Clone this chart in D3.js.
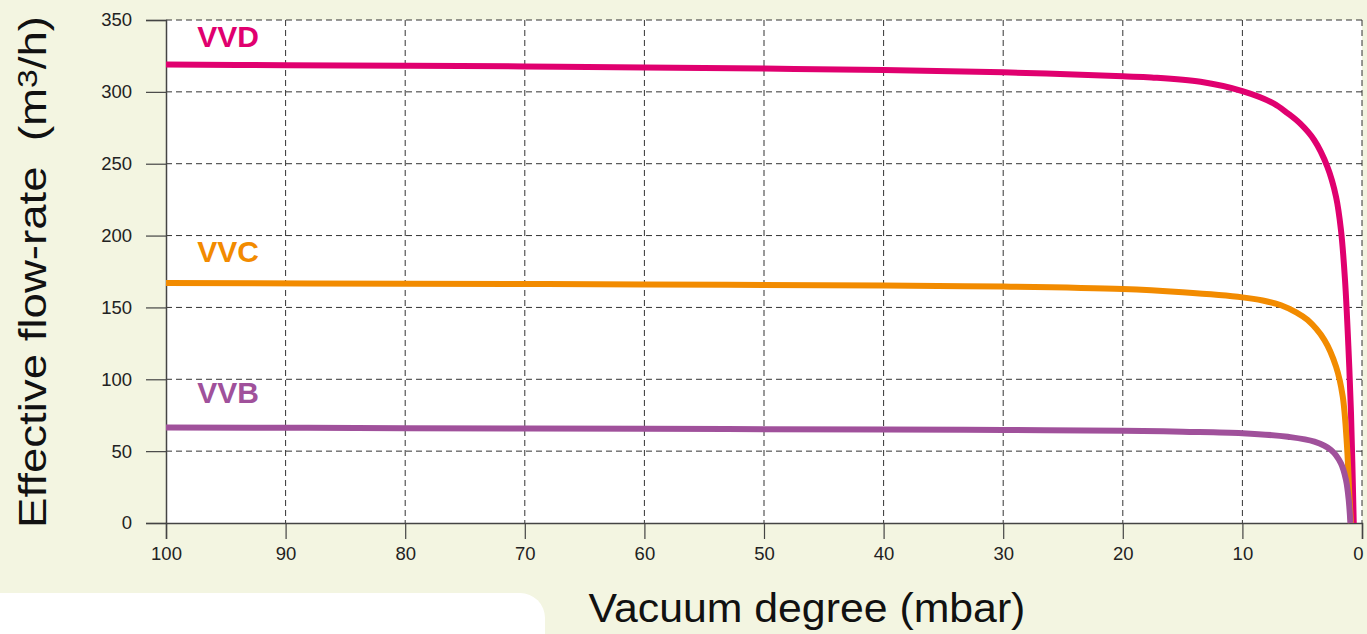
<!DOCTYPE html>
<html>
<head>
<meta charset="utf-8">
<script src="https://cdn.jsdelivr.net/npm/d3@7"></script>
<style>
  html, body { margin: 0; padding: 0; background: #f3f5e1; overflow: hidden; }
  svg { display: block; font-family: "Liberation Sans", Arial, sans-serif; }
</style>
</head>
<body>
<script>
// Vacuum degree (mbar) / flow-rate (m3/h) pairs
var vvd = [
  [100, 319], [90, 318.6], [80, 318.2], [70, 317.7], [60, 317], [50, 316.2],
  [40, 315.2], [30, 313.6], [20, 310.8], [17.6, 310], [13.5, 307],
  [10, 300.5], [7.4, 292], [6.2, 285], [5.18, 278], [4.0, 266.5],
  [2.9, 248], [2.17, 227], [1.76, 204], [1.42, 169], [1.14, 123],
  [0.92, 76.5], [0.69, 0]
];
var vvc = [
  [100, 167], [80, 166.5], [60, 166], [40, 165.2], [30, 164.5], [20, 162.8],
  [15, 160.5], [10, 157], [8.3, 154.8], [6.77, 151.5], [5.5, 146.5],
  [4.54, 141.2], [3.14, 127.3], [2.17, 108.8], [1.61, 88], [1.25, 53],
  [1.05, 18], [0.92, 0]
];
var vvb = [
  [100, 66.5], [80, 66], [60, 65.5], [40, 65], [30, 64.7], [20, 64.2],
  [15, 63.5], [10, 62.5], [6.2, 60], [3.98, 56.6], [2.59, 50.8],
  [1.76, 41.5], [1.34, 30], [1.11, 16], [0.97, 0]
];
var seriesNames = ["VVD", "VVC", "VVB"];
var seriesColors = ["#e0006f", "#f28b00", "#a0519b"];
var labelValues = [335, 185, 87];   // where the name labels sit
var xTicks = [100, 90, 80, 70, 60, 50, 40, 30, 20, 10, 0];
var yTicks = [0, 50, 100, 150, 200, 250, 300, 350];

var W = 1367, H = 634;
// plot box (note: "top" is reserved on window, so use pl/pr/pt/pb)
var pl = 166, pr = 1362, pt = 20, pb = 523;

var svg = d3.select("body").append("svg")
  .attr("width", W).attr("height", H);

// white block bottom left
svg.append("path")
  .attr("d", "M0,593 H520 A25,25 0 0 1 545,618 V634 H0 Z")
  .attr("fill", "#ffffff");

var x = d3.scaleLinear().domain([100, 0]).range([pl, pr]);
var y = d3.scaleLinear().domain([0, 350]).range([pb, pt]);

// plot area
svg.append("rect")
  .attr("x", pl).attr("y", pt)
  .attr("width", pr - pl).attr("height", pb - pt)
  .attr("fill", "#ffffff");

// dashed grid
svg.append("g").selectAll("line").data(yTicks.filter(d => d > 0)).enter()
  .append("line")
  .attr("x1", pl).attr("x2", pr)
  .attr("y1", d => y(d)).attr("y2", d => y(d))
  .attr("stroke", "#333").attr("stroke-width", 1)
  .attr("stroke-dasharray", "6,4");

svg.append("g").selectAll("line").data(xTicks.filter(d => d < 100)).enter()
  .append("line")
  .attr("x1", d => x(d)).attr("x2", d => x(d))
  .attr("y1", pt).attr("y2", pb)
  .attr("stroke", "#333").attr("stroke-width", 1)
  .attr("stroke-dasharray", "6,4");

// axes
var yAxis = svg.append("g")
  .attr("transform", "translate(" + pl + ",0)")
  .call(d3.axisLeft(y).tickValues(yTicks).tickSize(20).tickPadding(14));
var xAxis = svg.append("g")
  .attr("transform", "translate(0," + pb + ")")
  .call(d3.axisBottom(x).tickValues(xTicks).tickSize(16).tickPadding(8));

[yAxis, xAxis].forEach(function (g) {
  g.select(".domain").attr("stroke", "#444").attr("stroke-width", 1.5);
  g.selectAll(".tick line").attr("stroke", "#444").attr("stroke-width", 1.2);
  g.selectAll(".tick text")
    .attr("fill", "#222")
    .style("font-size", "18.5px")
    .style("font-family", "Liberation Sans, Arial, sans-serif");
});
// the "0" tick label sits at the right edge
xAxis.selectAll(".tick text").filter(d => d === 0).attr("dx", -4);

// curves
var line = d3.line()
  .x(d => x(d[0]))
  .y(d => y(d[1]))
  .curve(d3.curveCatmullRom.alpha(0.5));

[vvd, vvc, vvb].forEach(function (data, i) {
  svg.append("path")
    .datum(data)
    .attr("d", line)
    .attr("fill", "none")
    .attr("stroke", seriesColors[i])
    .attr("stroke-width", 6);
});

// names
svg.append("g").selectAll("text").data(seriesNames).enter()
  .append("text")
  .attr("x", x(94.8))
  .attr("y", (d, i) => y(labelValues[i]) + 5)
  .attr("text-anchor", "middle")
  .attr("fill", (d, i) => seriesColors[i])
  .style("font-size", "30px")
  .style("font-weight", "bold")
  .text(d => d);

// axis titles: the original face is wider than Liberation Sans, so stretch
var yt = svg.append("text")
  .attr("text-anchor", "middle")
  .attr("fill", "#111")
  .style("font-size", "38px");
yt.append("tspan").text("Effective flow-rate\u00a0\u00a0(m");
yt.append("tspan").attr("dy", -9).style("font-size", "28px").text("3");
yt.append("tspan").attr("dy", 9).text("/h)");
var ylen = yt.node().getComputedTextLength();
yt.attr("transform", "translate(46,272) rotate(-90) scale(" + (512 / ylen) + ",1)");

var xt = svg.append("text")
  .attr("text-anchor", "middle")
  .attr("fill", "#111")
  .style("font-size", "40px")
  .text("Vacuum degree (mbar)");
var xlen = xt.node().getComputedTextLength();
xt.attr("transform", "translate(807,622) scale(" + (437 / xlen) + ",1)");
</script>
</body>
</html>
